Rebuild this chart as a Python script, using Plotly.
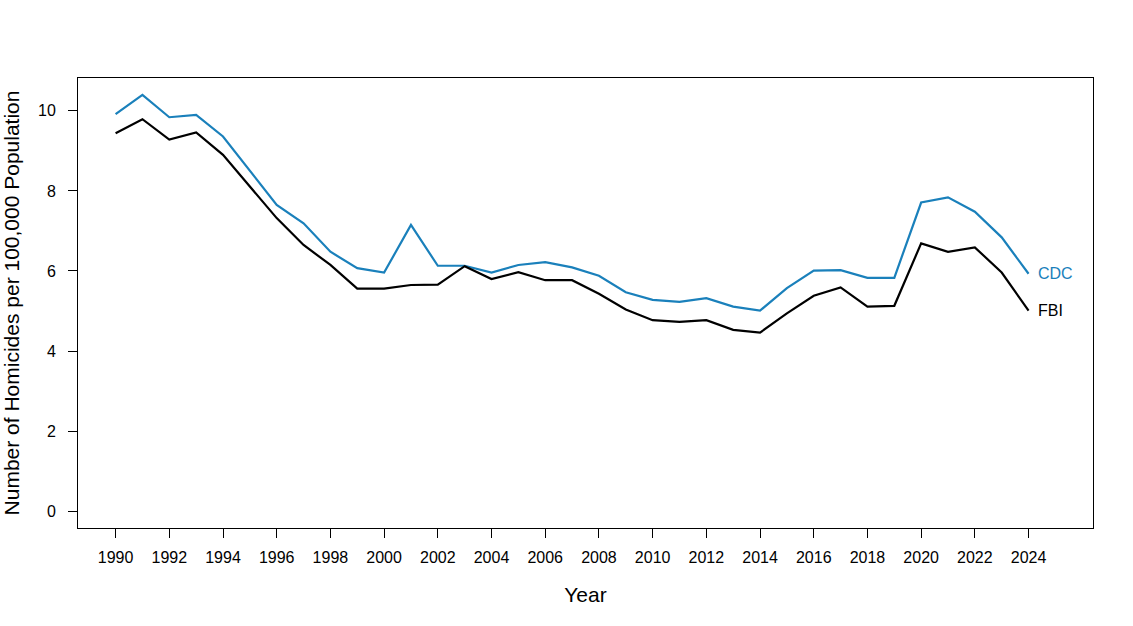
import plotly.graph_objects as go

years = list(range(1990, 2025))
cdc = [9.92, 10.40, 9.84, 9.90, 9.36, 8.49, 7.65, 7.19, 6.48, 6.07,
       5.96, 7.15, 6.13, 6.13, 5.96, 6.15, 6.22, 6.09, 5.88, 5.47,
       5.28, 5.23, 5.32, 5.11, 5.01, 5.57, 6.01, 6.02, 5.83, 5.83,
       7.71, 7.84, 7.48, 6.84, 5.93]
fbi = [9.44, 9.79, 9.28, 9.46, 8.90, 8.11, 7.32, 6.65, 6.15, 5.56,
       5.56, 5.65, 5.66, 6.12, 5.80, 5.97, 5.77, 5.77, 5.43, 5.04,
       4.77, 4.73, 4.77, 4.53, 4.46, 4.94, 5.38, 5.59, 5.11, 5.13,
       6.69, 6.48, 6.59, 5.96, 5.01]
x_ticks = list(range(1990, 2025, 2))
y_ticks = [0, 2, 4, 6, 8, 10]

BLUE = "#1a80bb"
FONT = "Liberation Sans, Arial, sans-serif"

fig = go.Figure()
fig.add_trace(go.Scatter(x=years, y=cdc, mode="lines", name="CDC",
                         line=dict(color=BLUE, width=2.2)))
fig.add_trace(go.Scatter(x=years, y=fbi, mode="lines", name="FBI",
                         line=dict(color="black", width=2.2)))

fig.add_annotation(x=years[-1], y=cdc[-1], text="CDC", showarrow=False,
                   xanchor="left", yanchor="middle", xshift=7,
                   font=dict(family=FONT, size=16, color=BLUE))
fig.add_annotation(x=years[-1], y=fbi[-1], text="FBI", showarrow=False,
                   xanchor="left", yanchor="middle", xshift=7,
                   font=dict(family=FONT, size=16, color="black"))

fig.update_layout(
    width=1133, height=626,
    margin=dict(l=78, r=40, t=78, b=98),
    paper_bgcolor="white", plot_bgcolor="white",
    showlegend=False,
    font=dict(family=FONT, color="black", size=16),
    xaxis=dict(range=[1988.6, 2026.4], tickvals=x_ticks,
               ticktext=[str(v) for v in x_ticks], automargin=False,
               showgrid=False, zeroline=False, showline=True, mirror=True,
               linecolor="black", linewidth=1, ticks="outside", ticklen=9,
               tickcolor="black", tickwidth=1, ticklabelstandoff=6,
               tickfont=dict(size=16),
               title=dict(text="Year", font=dict(size=21), standoff=22)),
    yaxis=dict(range=[-0.42, 10.82], tickvals=y_ticks, automargin=False,
               showgrid=False, zeroline=False, showline=True, mirror=True,
               linecolor="black", linewidth=1, ticks="outside", ticklen=9,
               tickcolor="black", tickwidth=1, ticklabelstandoff=9,
               tickfont=dict(size=16),
               title=dict(text="Number of Homicides per 100,000 Population",
                          font=dict(size=21), standoff=20)),
)

fig.write_html("out.html",
               config={"displayModeBar": False},
               post_script="document.body.style.margin='0';")
